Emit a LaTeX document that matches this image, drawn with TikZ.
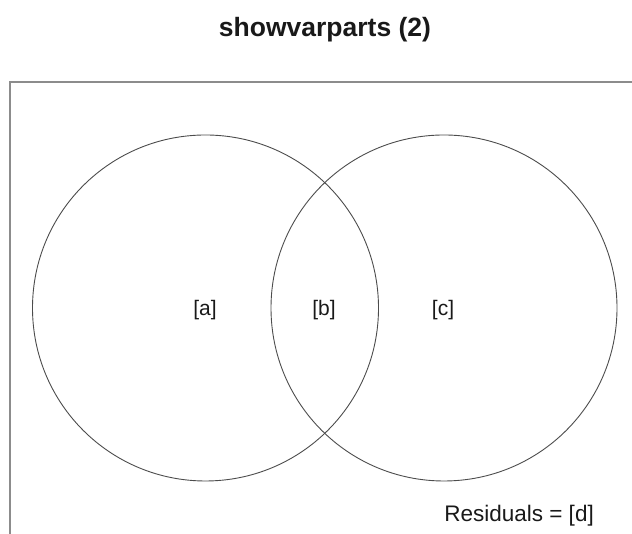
\documentclass[tikz,border=0pt]{standalone}
\usepackage{fontspec}
\setmainfont{Liberation Sans}
\begin{document}
\begin{tikzpicture}[x=1pt,y=1pt,
  lbl/.style={font=\fontsize{21}{24}\selectfont, text=black!90, inner sep=0pt},
  reslbl/.style={font=\fontsize{22.5}{26}\selectfont, text=black!90, inner sep=0pt},
  ttl/.style={font=\fontsize{26.5}{30}\bfseries\selectfont, text=black!90, inner sep=0pt},
  venn/.style={draw=black!70, line width=0.9pt},
  frame/.style={draw=black!45, line width=1.6pt}]
\useasboundingbox (0,0) rectangle (632,534);
\begin{scope}
\clip (0,0) rectangle (632,534);
\draw[frame] (10,452) rectangle (645,-10);
\end{scope}
\node[ttl] (title) at (325,504) {showvarparts (2)};
\node[venn, circle, minimum size=346pt, inner sep=0pt] (A) at (205.5,226) {};
\node[venn, circle, minimum size=346pt, inner sep=0pt] (C) at (444,226) {};
\node[lbl] (a) at (205,224) {[a]};
\node[lbl] (b) at (324,224) {[b]};
\node[lbl] (c) at (443,224) {[c]};
\node[reslbl, anchor=east] (d) at (594,18) {Residuals = [d]};
\end{tikzpicture}
\end{document}
